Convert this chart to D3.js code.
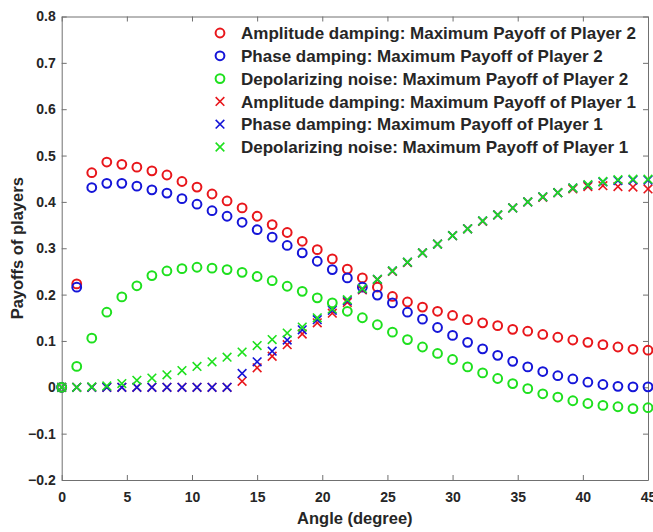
<!DOCTYPE html>
<html>
<head>
<meta charset="utf-8">
<script src="https://cdn.jsdelivr.net/npm/d3@7"></script>
<style>
  body { margin: 0; background: #fff; }
  svg text { font-family: "Liberation Sans", Arial, sans-serif; font-weight: bold; fill: #262626; }
</style>
</head>
<body>
<svg id="chart" width="653" height="532"></svg>
<script>
// angles: 40 points from 0 to 45 degree
var angleCount = 40;
var angles = d3.range(angleCount).map(function (i) { return i * 45 / (angleCount - 1); });

var xTicks = [0, 5, 10, 15, 20, 25, 30, 35, 40, 45];
var yTicks = [-0.2, -0.1, 0, 0.1, 0.2, 0.3, 0.4, 0.5, 0.6, 0.7, 0.8];

// Player 2 (circles)
var ampP2 = [0, 0.223, 0.463, 0.486, 0.481, 0.475, 0.467, 0.458, 0.444, 0.432,
  0.417, 0.402, 0.387, 0.369, 0.351, 0.334, 0.315, 0.297, 0.277, 0.255,
  0.236, 0.216, 0.196, 0.184, 0.173, 0.164, 0.155, 0.146, 0.139, 0.133,
  0.125, 0.121, 0.114, 0.108, 0.102, 0.097, 0.092, 0.087, 0.082, 0.080];
var phaseP2 = [0, 0.216, 0.431, 0.440, 0.440, 0.434, 0.426, 0.419, 0.407, 0.395,
  0.381, 0.369, 0.356, 0.340, 0.324, 0.306, 0.290, 0.272, 0.254, 0.236,
  0.216, 0.199, 0.182, 0.162, 0.147, 0.129, 0.112, 0.097, 0.083, 0.069,
  0.056, 0.044, 0.034, 0.025, 0.018, 0.011, 0.006, 0.002, 0.001, 0.001];
var depolP2 = [0, 0.045, 0.106, 0.162, 0.195, 0.219, 0.241, 0.251, 0.256, 0.259,
  0.257, 0.254, 0.248, 0.239, 0.230, 0.218, 0.207, 0.193, 0.182, 0.164,
  0.150, 0.135, 0.119, 0.103, 0.087, 0.073, 0.060, 0.044, 0.031, 0.019,
  0.008, -0.003, -0.014, -0.021, -0.029, -0.035, -0.039, -0.042, -0.046, -0.044];

// Player 1 (crosses)
var ampP1 = [0, 0, 0, 0, 0, 0, 0, 0, 0, 0,
  0, 0, 0.013, 0.042, 0.067, 0.092, 0.115, 0.139, 0.160, 0.183,
  0.210, 0.232, 0.250, 0.269, 0.290, 0.309, 0.327, 0.342, 0.358, 0.372,
  0.387, 0.400, 0.410, 0.420, 0.428, 0.433, 0.435, 0.433, 0.432, 0.428];
var phaseP1 = [0, 0, 0, 0, 0, 0, 0, 0, 0, 0,
  0, 0, 0.030, 0.055, 0.078, 0.102, 0.124, 0.146, 0.166, 0.187,
  0.212, 0.233, 0.251, 0.270, 0.290, 0.309, 0.327, 0.342, 0.359, 0.372,
  0.387, 0.400, 0.411, 0.420, 0.430, 0.436, 0.443, 0.446, 0.447, 0.447];
var depolP1 = [0, 0, 0.001, 0.003, 0.008, 0.015, 0.020, 0.027, 0.036, 0.045,
  0.055, 0.065, 0.076, 0.090, 0.103, 0.117, 0.130, 0.150, 0.169, 0.189,
  0.213, 0.233, 0.251, 0.270, 0.290, 0.309, 0.327, 0.342, 0.359, 0.372,
  0.387, 0.400, 0.411, 0.420, 0.430, 0.437, 0.444, 0.448, 0.449, 0.449];

var red = "#e8161b", blue = "#1515d8", green = "#1ee01e";

var series = [
  { name: "Amplitude damping: Maximum Payoff of Player 2", values: ampP2, color: red, marker: "o" },
  { name: "Phase damping: Maximum Payoff of Player 2", values: phaseP2, color: blue, marker: "o" },
  { name: "Depolarizing noise: Maximum Payoff of Player 2", values: depolP2, color: green, marker: "o" },
  { name: "Amplitude damping: Maximum Payoff of Player 1", values: ampP1, color: red, marker: "x" },
  { name: "Phase damping: Maximum Payoff of Player 1", values: phaseP1, color: blue, marker: "x" },
  { name: "Depolarizing noise: Maximum Payoff of Player 1", values: depolP1, color: green, marker: "x" }
];

function drawChart() {
  var svg = d3.select("#chart");
  var mLeft = 61.7, mRight = 648, mTop = 16.5, mBottom = 480;

  var x = d3.scaleLinear().domain([0, 45]).range([mLeft, mRight]);
  var y = d3.scaleLinear().domain([-0.2, 0.8]).range([mBottom, mTop]);

  var axisColor = "#707070";

  function fmtY(d) { return d === 0 ? "0" : d3.format(".1f")(d); }

  var gx = svg.append("g")
    .attr("transform", "translate(0," + mBottom + ")")
    .call(d3.axisBottom(x).tickValues(xTicks).tickSizeInner(-5).tickSizeOuter(0).tickPadding(12).tickFormat(d3.format("d")));
  var gy = svg.append("g")
    .attr("transform", "translate(" + mLeft + ",0)")
    .call(d3.axisLeft(y).tickValues(yTicks).tickSizeInner(-5).tickSizeOuter(0).tickPadding(6).tickFormat(fmtY));
  var gt = svg.append("g")
    .attr("transform", "translate(0," + mTop + ")")
    .call(d3.axisTop(x).tickValues(xTicks).tickSizeInner(-5).tickSizeOuter(0).tickFormat(""));
  var gr = svg.append("g")
    .attr("transform", "translate(" + mRight + ",0)")
    .call(d3.axisRight(y).tickValues(yTicks).tickSizeInner(-5).tickSizeOuter(0).tickFormat(""));

  [gx, gy, gt, gr].forEach(function (g) {
    g.select(".domain").attr("stroke", axisColor);
    g.selectAll(".tick line").attr("stroke", axisColor);
    g.selectAll(".tick text").attr("fill", "#262626").style("font-size", "14px")
      .style("font-family", "'Liberation Sans', Arial, sans-serif").style("font-weight", "bold");
  });

  // axis titles
  svg.append("text")
    .attr("x", (mLeft + mRight) / 2)
    .attr("y", 524)
    .attr("text-anchor", "middle")
    .style("font-size", "16.5px")
    .text("Angle (degree)");

  svg.append("text")
    .attr("transform", "translate(23," + (mTop + mBottom) / 2 + ") rotate(-90)")
    .attr("text-anchor", "middle")
    .style("font-size", "16.5px")
    .text("Payoffs of players");

  function drawMarker(g, marker, color, r) {
    if (marker === "o") {
      g.append("circle").attr("r", r).attr("fill", "none")
        .attr("stroke", color).attr("stroke-width", 2);
    } else {
      g.append("path").attr("d", d3.symbol().type(d3.symbolX).size(r * r * 2.6)())
        .attr("fill", "none").attr("stroke", color).attr("stroke-width", 1.6);
    }
  }

  var plot = svg.append("g");
  series.forEach(function (s) {
    var pts = plot.append("g").selectAll("g")
      .data(s.values)
      .enter().append("g")
      .attr("transform", function (d, i) { return "translate(" + x(angles[i]) + "," + y(d) + ")"; });
    pts.each(function () { drawMarker(d3.select(this), s.marker, s.color, 4.4); });
  });

  // legend
  var legend = svg.append("g");
  series.forEach(function (s, i) {
    var row = legend.append("g").attr("transform", "translate(220," + (33 + i * 22.8) + ")");
    drawMarker(row, s.marker, s.color, 4.4);
    row.append("text")
      .attr("x", 21)
      .attr("dy", "0.36em")
      .style("font-size", "17px")
      .text(s.name);
  });
}

drawChart();
</script>
</body>
</html>
